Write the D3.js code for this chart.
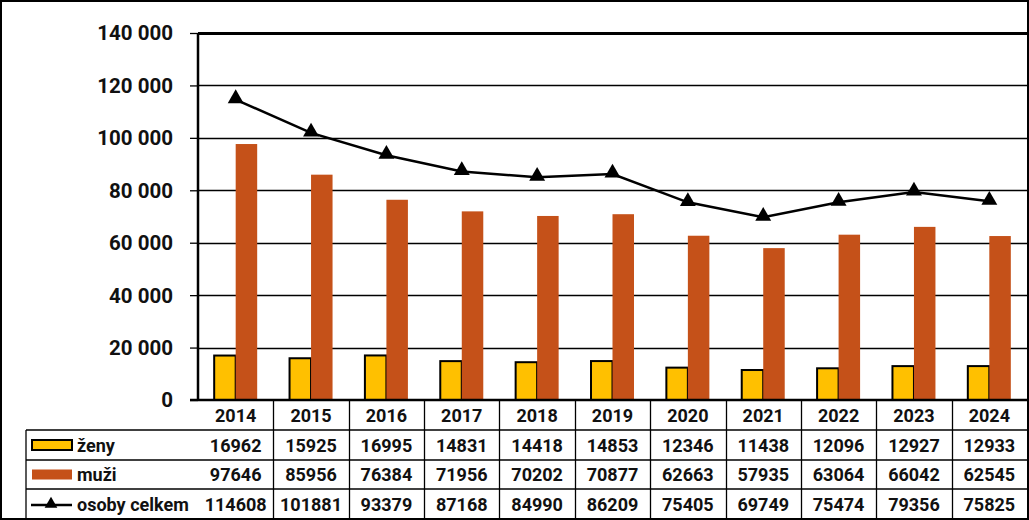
<!DOCTYPE html>
<html><head><meta charset="utf-8">
<script src="https://cdn.jsdelivr.net/npm/d3@7"></script>
<style>body{margin:0;background:#fff}svg{display:block}text{font-family:Roboto,"Liberation Sans",sans-serif;font-weight:bold;fill:#111}</style>
</head><body><svg id="c" width="1029" height="520"></svg>
<script>
const years = ["2014","2015","2016","2017","2018","2019","2020","2021","2022","2023","2024"];
const zeny = [16962,15925,16995,14831,14418,14853,12346,11438,12096,12927,12933];
const muzi = [97646,85956,76384,71956,70202,70877,62663,57935,63064,66042,62545];
const celkem = [114608,101881,93379,87168,84990,86209,75405,69749,75474,79356,75825];
const yTicks = [0,20000,40000,60000,80000,100000,120000,140000];
const seriesNames = ["ženy","muži","osoby celkem"];

const svg = d3.select("#c");
const L=198, R=1027, T=33, B=400;
const x = d3.scaleBand().domain(years).range([L,R]).padding(0);
const y = d3.scaleLinear().domain([0,140000]).range([B,T]);
const fmt = v => d3.format(",")(v).replace(/,/g," ");

// outer border
svg.append("rect").attr("x",1).attr("y",1).attr("width",1027).attr("height",518).attr("fill","none").attr("stroke","#000").attr("stroke-width",2);

// gridlines
svg.append("g").selectAll("line").data(yTicks.filter(d=>d>0)).join("line")
 .attr("x1",L).attr("x2",R).attr("y1",d=>Math.round(y(d))+0.5).attr("y2",d=>Math.round(y(d))+0.5)
 .attr("stroke","#000").attr("stroke-width",d=>d===140000?3:1.3);

// y axis
const ya = svg.append("g").attr("transform",`translate(${L},0)`).call(d3.axisLeft(y).tickValues(yTicks).tickFormat(fmt).tickSize(8).tickPadding(17));
ya.select(".domain").remove();
ya.selectAll(".tick line").attr("stroke","#000").attr("stroke-width",1.3);
ya.selectAll(".tick text").style("font-size","20.5px").attr("fill","#111").attr("dy","0.34em");

const bw = 21.5;
// bars
svg.append("g").selectAll("rect").data(years).join("rect")
 .attr("x",(d)=>x(d)+x.bandwidth()/2-bw).attr("width",bw)
 .attr("y",(d,i)=>y(zeny[i])).attr("height",(d,i)=>B-y(zeny[i]))
 .attr("fill","#FFC000").attr("stroke","#000").attr("stroke-width",2);
svg.append("g").selectAll("rect").data(years).join("rect")
 .attr("x",(d)=>x(d)+x.bandwidth()/2).attr("width",bw)
 .attr("y",(d,i)=>y(muzi[i])).attr("height",(d,i)=>B-y(muzi[i]))
 .attr("fill","#C55119");

// line
const line = d3.line().x((d,i)=>x(years[i])+x.bandwidth()/2).y(d=>y(d));
svg.append("path").datum(celkem).attr("d",line).attr("fill","none").attr("stroke","#000").attr("stroke-width",2.5);
const tri = d3.symbol().type(d3.symbolTriangle).size(110);
svg.append("g").selectAll("path").data(celkem).join("path")
 .attr("d",tri).attr("transform",(d,i)=>`translate(${x(years[i])+x.bandwidth()/2},${y(d)-1})`).attr("fill","#000");

// axes lines
svg.append("line").attr("x1",L).attr("x2",L).attr("y1",T).attr("y2",B+1).attr("stroke","#000").attr("stroke-width",2.5);
svg.append("line").attr("x1",L-8).attr("x2",R).attr("y1",B).attr("y2",B).attr("stroke","#000").attr("stroke-width",2.5);

// data table
const rowY = [400,430,460,489,519];
const TL = 26;
const tg = svg.append("g");
[1,2,3].forEach(k=>{
  tg.append("line").attr("x1",TL).attr("x2",R).attr("y1",rowY[k]).attr("y2",rowY[k]).attr("stroke","#000").attr("stroke-width",1.3);
});
tg.append("line").attr("x1",TL).attr("x2",TL).attr("y1",rowY[1]).attr("y2",519).attr("stroke","#000").attr("stroke-width",1.3);
tg.selectAll("line.v").data(years.slice(1)).join("line").attr("class","v")
 .attr("x1",d=>Math.round(x(d))+0.5).attr("x2",d=>Math.round(x(d))+0.5).attr("y1",B).attr("y2",519)
 .attr("stroke","#000").attr("stroke-width",1.3);
tg.selectAll("text.yr").data(years).join("text").attr("class","yr")
 .attr("x",d=>x(d)+x.bandwidth()/2).attr("y",(rowY[0]+rowY[1])/2+7).attr("text-anchor","middle").style("font-size","18px").text(d=>d);
const rows=[zeny,muzi,celkem];
rows.forEach((arr,r)=>{
  tg.selectAll(null).data(arr).join("text")
   .attr("x",(d,i)=>x(years[i])+x.bandwidth()/2).attr("y",(rowY[r+1]+rowY[r+2])/2+6.5)
   .attr("text-anchor","middle").style("font-size","18px").text(d=>d);
  tg.append("text").attr("x",77).attr("y",(rowY[r+1]+rowY[r+2])/2+6.5).style("font-size","18px").text(seriesNames[r]);
});
const cy0=(rowY[1]+rowY[2])/2, cy1=(rowY[2]+rowY[3])/2, cy2=(rowY[3]+rowY[4])/2;
tg.append("rect").attr("x",32).attr("y",cy0-5).attr("width",40).attr("height",10).attr("fill","#FFC000").attr("stroke","#000").attr("stroke-width",2);
tg.append("rect").attr("x",32).attr("y",cy1-5).attr("width",40).attr("height",10).attr("fill","#C55119");
tg.append("line").attr("x1",31).attr("x2",72).attr("y1",cy2+1).attr("y2",cy2+1).attr("stroke","#000").attr("stroke-width",2.5);
tg.append("path").attr("d",d3.symbol().type(d3.symbolTriangle).size(70)).attr("transform",`translate(51,${cy2})`).attr("fill","#000");
</script></body></html>
